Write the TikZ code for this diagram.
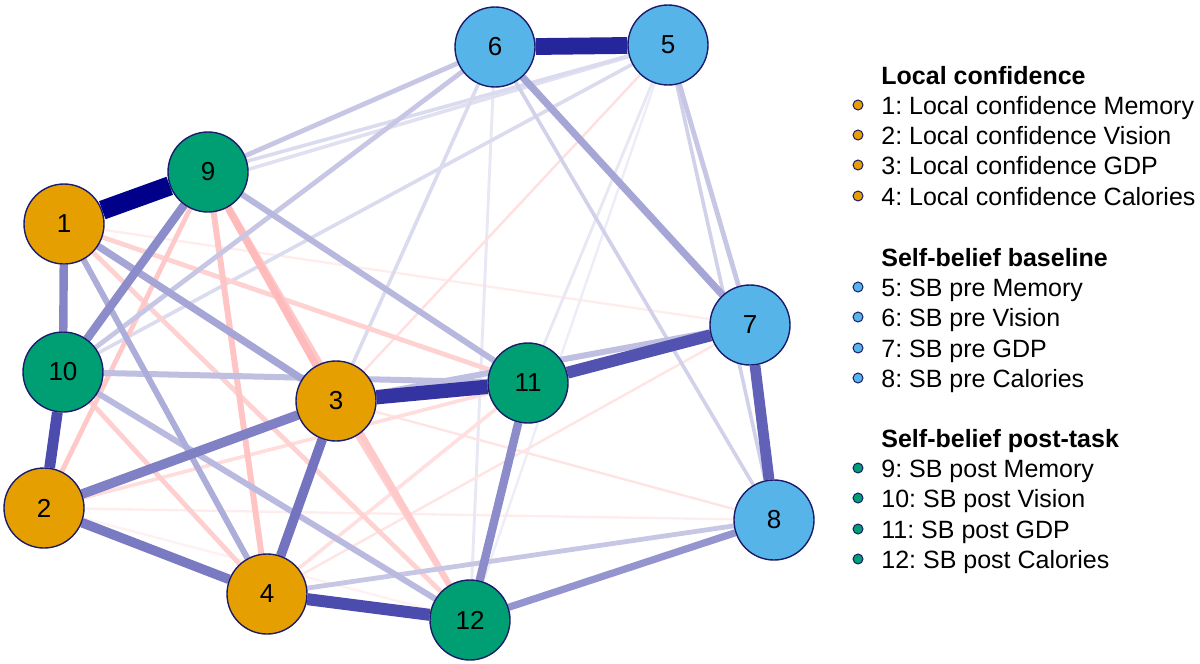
\documentclass[tikz,border=0pt]{standalone}
\usepackage{fontspec}
\setmainfont{Liberation Sans}
\usetikzlibrary{backgrounds}
\frenchspacing
\definecolor{posc}{RGB}{0,0,139}
\definecolor{negc}{RGB}{255,30,30}
\definecolor{lcol}{HTML}{E69F00}
\definecolor{bcol}{HTML}{56B4E9}
\definecolor{pcol}{HTML}{009E73}
\definecolor{bord}{HTML}{1B1B6B}
\newcommand\pedge[4]{\draw[line width=1.2*#3pt, posc!#4!white] (#1) -- (#2);}
\newcommand\nedge[4]{\draw[line width=1.2*#3pt, negc!#4!white] (#1) -- (#2);}
\tikzset{
  vnode/.style={circle, draw=bord, line width=0.7pt, minimum size=40pt, inner sep=0pt, font=\fontsize{13}{15}\selectfont},
  lc/.style={vnode, fill=lcol},
  sb/.style={vnode, fill=bcol},
  sp/.style={vnode, fill=pcol},
  ldot/.style={circle, draw=bord, line width=0.5pt, minimum size=5pt, inner sep=0pt},
  ltext/.style={anchor=base west, inner sep=0pt, font=\fontsize{12.5}{14}\selectfont},
  lhead/.style={anchor=base west, inner sep=0pt, font=\fontsize{12.5}{14}\selectfont\bfseries}
}
\begin{document}
\begin{tikzpicture}[x=0.5pt,y=-0.5pt]
\useasboundingbox (0,0) rectangle (1200,664);
% nodes
\node[lc] (n1) at (64,224) {1};
\node[lc] (n2) at (44,508) {2};
\node[lc] (n3) at (336,401) {3};
\node[lc] (n4) at (267,594) {4};
\node[sb] (n5) at (668,45) {5};
\node[sb] (n6) at (495,47) {6};
\node[sb] (n7) at (750,325) {7};
\node[sb] (n8) at (774,520) {8};
\node[sp] (n9) at (208,172) {9};
\node[sp] (n10) at (63,372) {10};
\node[sp] (n11) at (528,383) {11};
\node[sp] (n12) at (470,620) {12};
\begin{scope}[on background layer]
% faint / weak first
\nedge{n2}{n12}{1}{6}
\nedge{n2}{n8}{1}{8}
\nedge{n1}{n7}{1}{8}
\pedge{n5}{n12}{1}{7}
\pedge{n6}{n12}{1.2}{9}
\pedge{n5}{n11}{1.2}{9}
\nedge{n3}{n5}{1}{14}
\nedge{n3}{n8}{1}{12}
\nedge{n4}{n7}{1}{12}
\nedge{n4}{n11}{1.5}{14}
\nedge{n2}{n11}{1.5}{15}
\pedge{n1}{n5}{1.5}{12}
\pedge{n5}{n9}{1.5}{14}
\pedge{n5}{n10}{1.5}{14}
\pedge{n6}{n3}{1.5}{14}
\pedge{n6}{n8}{1.5}{18}
\pedge{n5}{n8}{1.5}{18}
\nedge{n1}{n11}{2}{20}
\nedge{n1}{n12}{2}{20}
\nedge{n10}{n4}{2}{22}
\nedge{n9}{n2}{2}{24}
\nedge{n3}{n12}{2}{22}
\nedge{n9}{n12}{2.5}{24}
\nedge{n9}{n4}{2.5}{26}
\nedge{n9}{n3}{3}{30}
\pedge{n8}{n4}{2}{22}
\pedge{n5}{n7}{2}{22}
\pedge{n6}{n9}{2}{22}
\pedge{n6}{n10}{2}{22}
\pedge{n3}{n7}{2.5}{25}
\pedge{n10}{n11}{2.5}{25}
\pedge{n10}{n12}{2.5}{27}
\pedge{n9}{n11}{2.5}{28}
\pedge{n1}{n4}{2.5}{32}
\pedge{n1}{n3}{3}{35}
\pedge{n6}{n7}{3}{35}
\pedge{n9}{n10}{3.5}{45}
\pedge{n12}{n8}{3}{42}
\pedge{n11}{n12}{3.5}{45}
\pedge{n1}{n10}{3.5}{48}
\pedge{n2}{n3}{4}{50}
\pedge{n2}{n4}{4}{52}
\pedge{n3}{n4}{4}{55}
\pedge{n10}{n2}{4.5}{70}
\pedge{n4}{n12}{5}{70}
\pedge{n7}{n8}{4.5}{62}
\pedge{n11}{n7}{5}{68}
\pedge{n3}{n11}{6}{80}
\pedge{n6}{n5}{7}{85}
\pedge{n1}{n9}{8}{100}
\end{scope}
% legend
\node[lhead] (h1) at (881,84) {Local confidence};
\node[ldot, fill=lcol] (d1) at (858,105) {};
\node[ltext] (t1) at (881,114) {1: Local confidence Memory};
\node[ldot, fill=lcol] (d2) at (858,135) {};
\node[ltext] (t2) at (881,144) {2: Local confidence Vision};
\node[ldot, fill=lcol] (d3) at (858,165) {};
\node[ltext] (t3) at (881,174) {3: Local confidence GDP};
\node[ldot, fill=lcol] (d4) at (858,196) {};
\node[ltext] (t4) at (881,205) {4: Local confidence Calories};
\node[lhead] (h2) at (881,266) {Self-belief baseline};
\node[ldot, fill=bcol] (d5) at (858,287) {};
\node[ltext] (t5) at (881,296) {5: SB pre Memory};
\node[ldot, fill=bcol] (d6) at (858,317) {};
\node[ltext] (t6) at (881,326) {6: SB pre Vision};
\node[ldot, fill=bcol] (d7) at (858,348) {};
\node[ltext] (t7) at (881,357) {7: SB pre GDP};
\node[ldot, fill=bcol] (d8) at (858,378) {};
\node[ltext] (t8) at (881,387) {8: SB pre Calories};
\node[lhead] (h3) at (881,447) {Self-belief post-task};
\node[ldot, fill=pcol] (d9) at (858,468) {};
\node[ltext] (t9) at (881,477) {9: SB post Memory};
\node[ldot, fill=pcol] (d10) at (858,498) {};
\node[ltext] (t10) at (881,507) {10: SB post Vision};
\node[ldot, fill=pcol] (d11) at (858,529) {};
\node[ltext] (t11) at (881,538) {11: SB post GDP};
\node[ldot, fill=pcol] (d12) at (858,559) {};
\node[ltext] (t12) at (881,568) {12: SB post Calories};
\end{tikzpicture}
\end{document}
